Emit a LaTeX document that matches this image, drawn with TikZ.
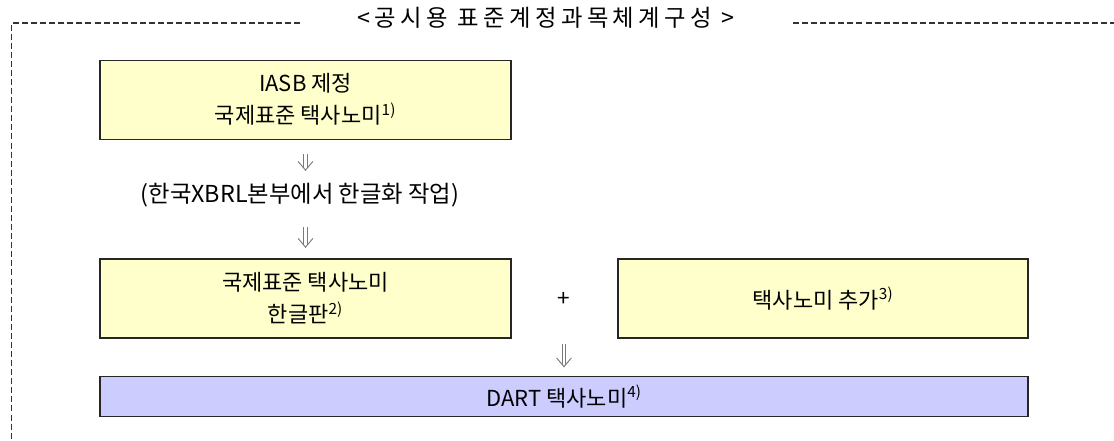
\documentclass[tikz,border=0pt]{standalone}
\usepackage{fontspec}
\setmainfont{Noto Sans CJK KR}
\usetikzlibrary{arrows.meta}
\definecolor{boxyellow}{HTML}{FFFFCC}
\definecolor{boxviolet}{HTML}{CCCCFF}
\definecolor{arrowgray}{HTML}{7A7A7A}
\definecolor{framegray}{HTML}{333333}
% double down arrow: shaft from #1, head at #2
\newcommand{\dnarrow}[2]{%
    \draw [dblshaft] (#1) -- ([yshift=2pt]#2);
    \draw [barbhead] ([yshift=0.5pt]#2) -- (#2);}

\begin{document}
\begin{tikzpicture}[x=0.75pt,y=-0.75pt,
    taxbox/.style={draw=black!85, line width=0.9pt, fill=boxyellow, align=center,
        inner sep=0pt, minimum width=308.25pt, minimum height=59.25pt,
        font=\fontsize{16.5}{24}\selectfont},
    dartbox/.style={taxbox, fill=boxviolet, minimum width=696pt, minimum height=29.6pt},
    frameline/.style={framegray, line width=0.8pt, dash pattern=on 4.5pt off 2.3pt},
    dblshaft/.style={arrowgray, line width=0.6pt, double, double distance=2.2pt},
    barbhead/.style={arrowgray, line width=0.7pt, -{Straight Barb[length=6.5pt,width=11pt]}},
]
    \useasboundingbox (0,0) rectangle (1114,440);
    % frame and title
    \draw [frameline] (300,23) -- (11.5,23) -- (11.5,440);
    \draw [frameline] (793,23) -- (1114,23);
    \node (title) at (546,18) {\fontsize{17.5}{20}\selectfont\addfontfeature{LetterSpace=19}<공시용 표준계정과목체계구성 >};
    % boxes
    \node [taxbox] (iasb) at (305.5,99.75) {IASB 제정\\국제표준 택사노미\textsuperscript{1)}};
    \node [inner sep=0pt, font=\fontsize{17.5}{20}\selectfont] (note) at (300,195) {(한국XBRL본부에서 한글화 작업)};
    \node [taxbox] (kor) at (305.5,298.5) {국제표준 택사노미\\한글판\textsuperscript{2)}};
    \node [inner sep=0pt, font=\fontsize{17}{20}\selectfont] (plus) at (564,299) {+};
    \node [taxbox, minimum width=307.5pt] (extra) at (823,298.5) {택사노미 추가\textsuperscript{3)}};
    \node [dartbox] (dart) at (564,396.5) {DART 택사노미\textsuperscript{4)}};
    % arrows
    \coordinate (a1s) at ([yshift=-10.5pt]iasb.south);
    \coordinate (a1t) at ([yshift=-23.25pt]iasb.south);
    \coordinate (a2s) at ([yshift=23.6pt]kor.north);
    \coordinate (a2t) at ([yshift=7.9pt]kor.north);
    \coordinate (a3s) at ([yshift=-4.1pt]plus |- kor.south);
    \coordinate (a3t) at ([yshift=6.6pt]plus |- dart.north);
    \dnarrow{a1s}{a1t}
    \dnarrow{a2s}{a2t}
    \dnarrow{a3s}{a3t}
\end{tikzpicture}
\end{document}
